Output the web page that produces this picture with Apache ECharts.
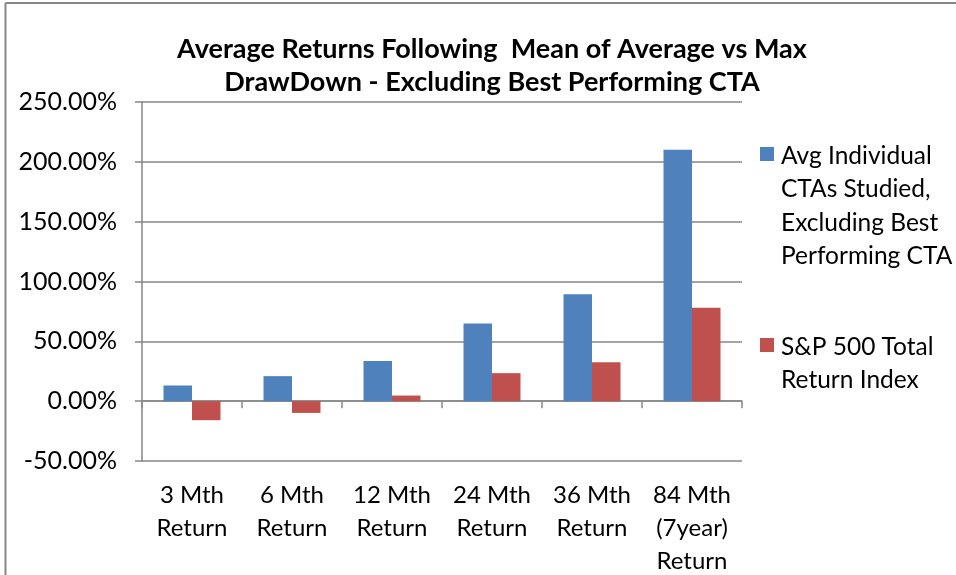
<!DOCTYPE html>
<html>
<head>
<meta charset="utf-8">
<script src="https://cdn.jsdelivr.net/npm/echarts@6/dist/echarts.min.js"></script>
<style>html,body{margin:0;padding:0;background:#fff}#c{width:956px;height:575px}</style>
</head>
<body>
<div id="c"></div>
<script>
const categories = ['3 Mth\nReturn', '6 Mth\nReturn', '12 Mth\nReturn', '24 Mth\nReturn', '36 Mth\nReturn', '84 Mth\n(7year)\nReturn'];
const ctaValues = [13.1, 20.9, 33.5, 65.0, 89.3, 210.1];
const spValues = [-15.9, -9.8, 4.7, 23.4, 32.6, 78.1];
const seriesNames = ['Avg Individual\nCTAs Studied,\nExcluding Best\nPerforming CTA', 'S&P 500 Total\nReturn Index'];
const titleText = 'Average Returns Following  Mean of Average vs Max\nDrawDown - Excluding Best Performing CTA';
const yMin = -50, yMax = 250, yStep = 50;

const FONT = 'Lato, "Open Sans", sans-serif';
const GRAY = '#868686';
const colors = ['#4F81BD', '#C0504D'];

const chart = echarts.init(document.getElementById('c'), null, {renderer: 'canvas'});
chart.setOption({
  animation: false,
  backgroundColor: '#fff',
  title: {
    text: titleText,
    left: 487, top: 28, textAlign: 'center',
    textStyle: {fontFamily: FONT, fontSize: 27, fontWeight: 'bold', color: '#000', lineHeight: 33}
  },
  grid: {left: 142, right: 214, top: 102, bottom: 114, containLabel: false, outerBoundsMode: 'none'},
  xAxis: [
    {
      type: 'category', data: categories, position: 'bottom',
      axisLine: {show: false, onZero: false}, axisTick: {show: false},
      axisLabel: {fontFamily: FONT, fontSize: 24, color: '#000', lineHeight: 33, margin: 18, interval: 0}
    },
    {
      type: 'category', data: categories, position: 'bottom',
      axisLine: {show: true, onZero: true, lineStyle: {color: GRAY, width: 1.5}},
      axisTick: {show: true, length: 7, inside: false, lineStyle: {color: GRAY, width: 1.5}},
      axisLabel: {show: false}
    }
  ],
  yAxis: {
    type: 'value', min: yMin, max: yMax, interval: yStep,
    axisLine: {show: true, lineStyle: {color: GRAY, width: 1.5}},
    axisTick: {show: true, length: 7, lineStyle: {color: GRAY, width: 1.5}},
    splitLine: {show: true, lineStyle: {color: GRAY, width: 1.5}},
    axisLabel: {fontFamily: FONT, fontSize: 25, color: '#000', margin: 25,
      formatter: v => v.toFixed(2) + '%'}
  },
  series: [
    {name: seriesNames[0], type: 'bar', data: ctaValues, xAxisIndex: 0,
      itemStyle: {color: colors[0]}, barGap: '0%', barCategoryGap: '43%'},
    {name: seriesNames[1], type: 'bar', data: spValues, xAxisIndex: 0,
      itemStyle: {color: colors[1]}, barGap: '0%', barCategoryGap: '43%'}
  ],
  graphic: [
    {type: 'line', shape: {x1: 5.5, y1: 3, x2: 5.5, y2: 575}, style: {stroke: GRAY, lineWidth: 2}},
    {type: 'line', shape: {x1: 5.5, y1: 3, x2: 956, y2: 3}, style: {stroke: GRAY, lineWidth: 2}},
    {type: 'rect', shape: {x: 760, y: 147, width: 14, height: 14}, style: {fill: colors[0]}},
    {type: 'text', x: 781, y: 139, style: {text: seriesNames[0], fontFamily: FONT, fontSize: 24.5, fill: '#000', lineHeight: 33.5}},
    {type: 'rect', shape: {x: 760, y: 338, width: 14, height: 14}, style: {fill: colors[1]}},
    {type: 'text', x: 781, y: 330, style: {text: seriesNames[1], fontFamily: FONT, fontSize: 24.5, fill: '#000', lineHeight: 33.5}}
  ]
});
</script>
</body>
</html>
